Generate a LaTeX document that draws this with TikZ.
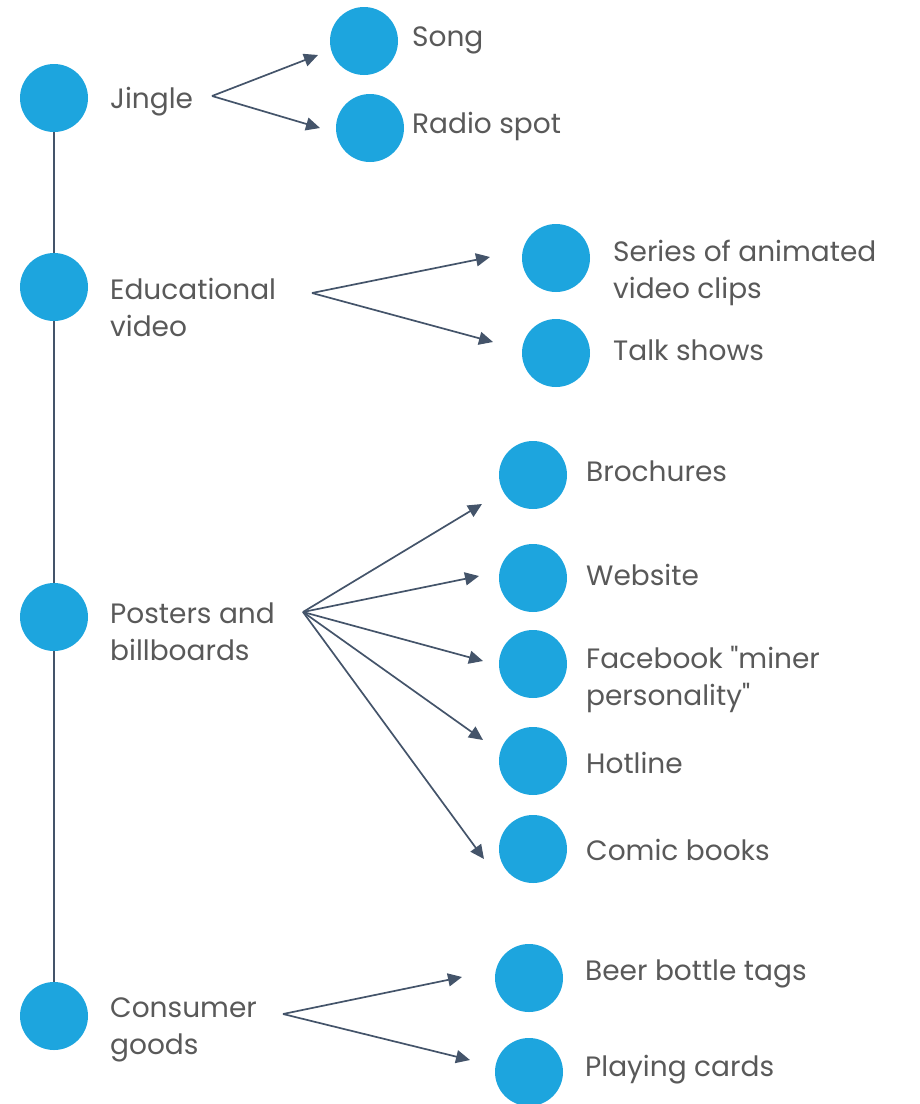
\documentclass[tikz,border=0pt]{standalone}
\usepackage{fontspec}
\setmainfont{Poppins}
\usetikzlibrary{arrows.meta}
\definecolor{dotblue}{HTML}{1DA5DE}
\definecolor{linegray}{HTML}{44546A}
\definecolor{txtgray}{HTML}{595959}
\begin{document}
\begin{tikzpicture}[x=1pt,y=-1pt,
  dot/.style={circle,fill=dotblue,minimum size=68pt,inner sep=0pt},
  lbl/.style={anchor=west,text=txtgray,font=\fontsize{28}{37}\selectfont,align=left,inner sep=0pt},
  arr/.style={draw=linegray,line width=1.7pt,-{Triangle[length=14pt,width=13pt]}},
  spine/.style={draw=linegray,line width=1.7pt}]
\useasboundingbox (0,0) rectangle (920,1104);
% main column
\node[dot] (m1) at (54,98) {};
\node[dot] (m2) at (54,287) {};
\node[dot] (m3) at (54,617) {};
\node[dot] (m4) at (54,1016) {};
\draw[spine] (m1) -- (m2);
\draw[spine] (m2) -- (m3);
\draw[spine] (m3) -- (m4);
\node[lbl] (l1) at (110,102) {Jingle};
\node[lbl] (l2) at (110,307) {Educational\\video};
\node[lbl] (l3) at (110,632) {Posters and\\billboards};
\node[lbl] (l4) at (110,1030) {Consumer\\goods};
% Jingle children
\node[dot] (a1) at (364,41) {};
\node[dot] (a2) at (370,128) {};
\node[lbl] (ta1) at (412,40) {Song};
\node[lbl] (ta2) at (412,126) {Radio spot};
\coordinate (o1) at (212,96);
\coordinate (e11) at (318,55);
\coordinate (e12) at (320,128);
\draw[arr] (o1) -- (e11);
\draw[arr] (o1) -- (e12);
% Educational children
\node[dot] (b1) at (556,258) {};
\node[dot] (b2) at (556,353) {};
\node[lbl] (tb1) at (613,273) {Series of animated\\video clips};
\node[lbl] (tb2) at (613,350) {Talk shows};
\coordinate (o2) at (312,293);
\coordinate (e21) at (490,257);
\coordinate (e22) at (493,342);
\draw[arr] (o2) -- (e21);
\draw[arr] (o2) -- (e22);
% Posters children
\node[dot] (c1) at (533,475) {};
\node[dot] (c2) at (533,578) {};
\node[dot] (c3) at (533,664) {};
\node[dot] (c4) at (533,761) {};
\node[dot] (c5) at (533,849) {};
\node[lbl] (tc1) at (586,471) {Brochures};
\node[lbl] (tc2) at (586,575) {Website};
\node[lbl] (tc3) at (586,679) {Facebook \textquotedbl miner\\personality\textquotedbl};
\node[lbl] (tc4) at (586,763) {Hotline};
\node[lbl] (tc5) at (586,850) {Comic books};
\coordinate (o3) at (303,612);
\coordinate (e31) at (482,504);
\coordinate (e32) at (479,576);
\coordinate (e33) at (483,661);
\coordinate (e34) at (483,740);
\coordinate (e35) at (484,859);
\foreach \e in {e31,e32,e33,e34,e35} \draw[arr] (o3) -- (\e);
% Consumer goods children
\node[dot] (d1) at (529,978) {};
\node[dot] (d2) at (529,1072) {};
\node[lbl] (td1) at (585,974) {Beer bottle tags};
\node[lbl] (td2) at (585,1070) {Playing cards};
\coordinate (o4) at (283,1014);
\coordinate (e41) at (462,977);
\coordinate (e42) at (470,1060);
\draw[arr] (o4) -- (e41);
\draw[arr] (o4) -- (e42);
\end{tikzpicture}
\end{document}
